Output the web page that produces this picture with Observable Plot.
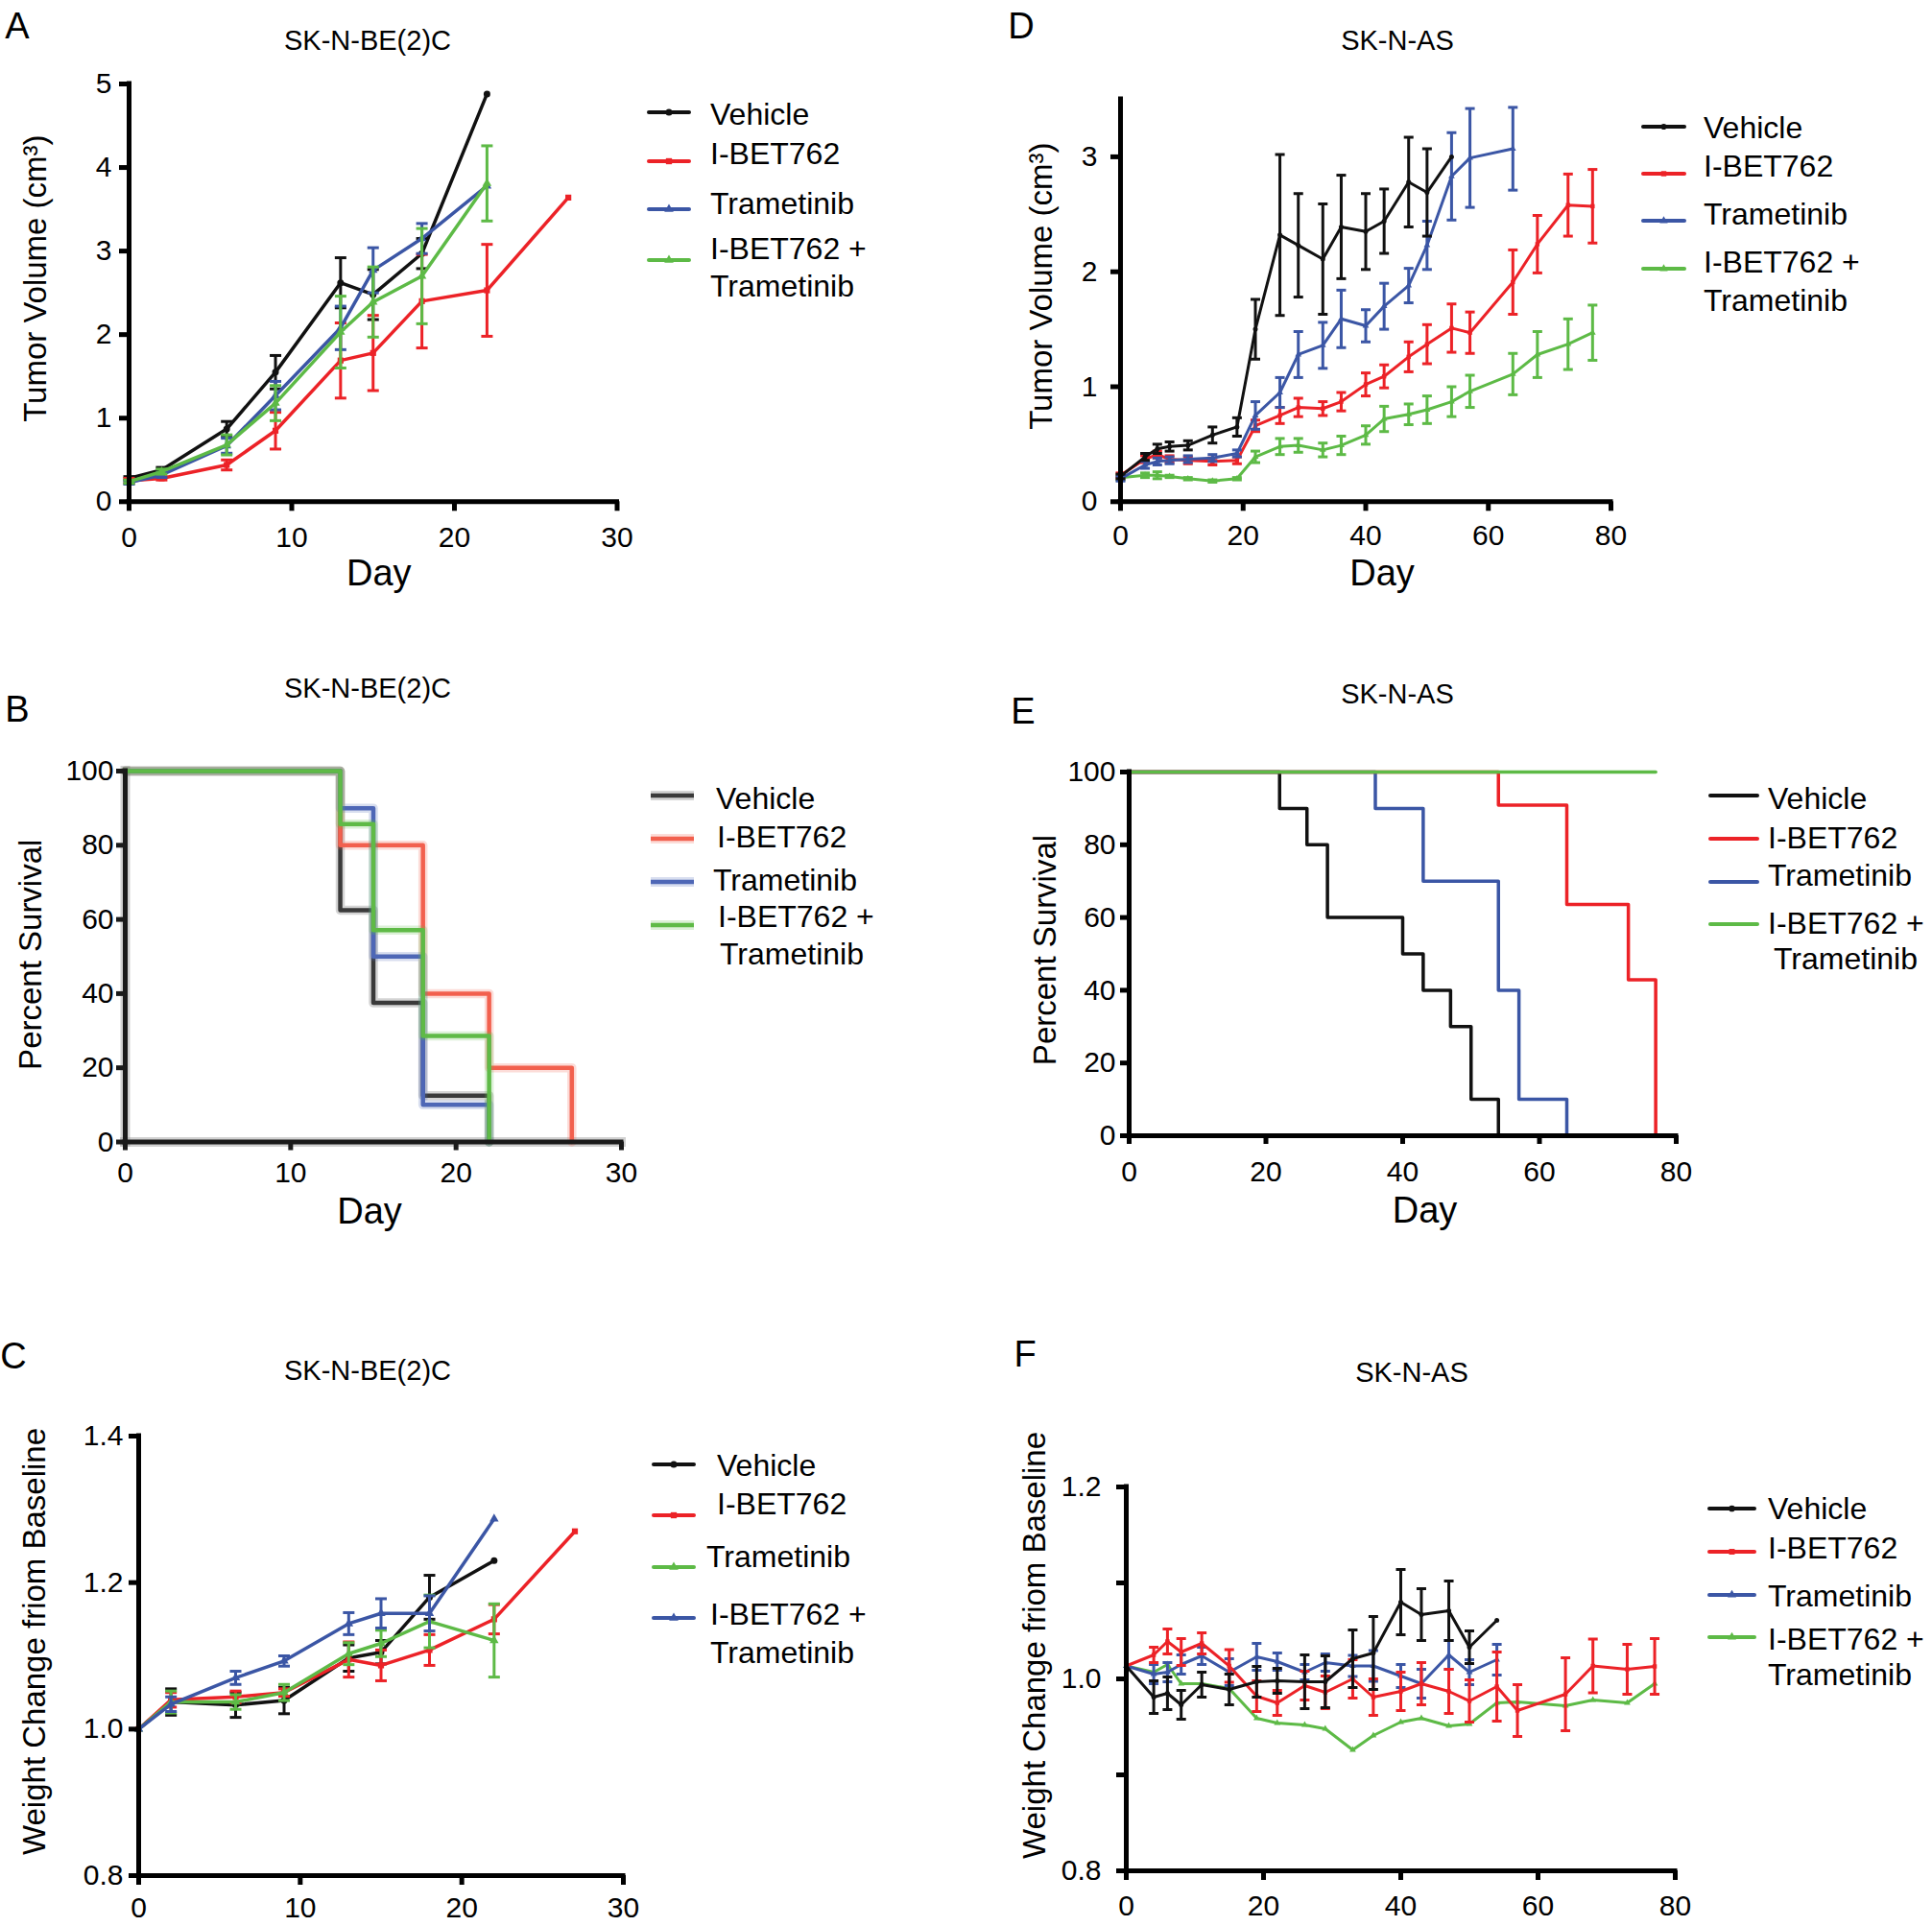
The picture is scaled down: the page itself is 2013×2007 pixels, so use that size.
<!DOCTYPE html>
<html><head><meta charset="utf-8">
<script src="https://cdn.jsdelivr.net/npm/d3@7"></script>
<script src="https://cdn.jsdelivr.net/npm/@observablehq/plot@0.6"></script>
<style>
html,body{margin:0;padding:0;background:#fff;}
#root{position:relative;width:2013px;height:2007px;overflow:hidden;background:#fff;}
</style></head><body><div id="root"></div>
<script>
// ================= DATA =================
const seriesNames = ["Vehicle", "I-BET762", "Trametinib", "I-BET762 + Trametinib"];

// ---- Panel A: SK-N-BE(2)C tumor volume (cm3) ----
const daysA = [0, 2, 6, 9, 13, 15, 18, 22];
const daysA_ibet = [0, 2, 6, 9, 13, 15, 18, 22, 27];
const volA_vehicle = [0.28, 0.38, 0.87, 1.55, 2.62, 2.48, 2.97, 4.88];
const semA_vehicle = [0.02, 0.03, 0.09, 0.20, 0.30, 0.30, 0.18, 0];
const volA_ibet = [0.25, 0.28, 0.44, 0.85, 1.69, 1.78, 2.40, 2.53, 3.64];
const semA_ibet = [0.03, 0.02, 0.06, 0.22, 0.45, 0.45, 0.56, 0.55, 0];
const volA_tram = [0.23, 0.32, 0.67, 1.27, 2.08, 2.77, 3.15, 3.78];
const semA_tram = [0.02, 0.03, 0.09, 0.17, 0.26, 0.27, 0.18, 0];
const volA_combo = [0.24, 0.36, 0.68, 1.18, 2.03, 2.39, 2.70, 3.81];
const semA_combo = [0.02, 0.03, 0.12, 0.21, 0.43, 0.42, 0.57, 0.45];

// ---- Panel D: SK-N-AS tumor volume (cm3) ----
const daysAS = [0, 4, 6, 8, 11, 15, 19, 22, 26, 29, 33, 36, 40, 43, 47, 50, 54, 57, 64, 68, 73, 77];
const volD_vehicle = [0.22, 0.39, 0.46, 0.48, 0.49, 0.58, 0.65, 1.50, 2.32, 2.23, 2.11, 2.39, 2.35, 2.44, 2.78, 2.69, 3.00];
const semD_vehicle = [0.02, 0.03, 0.04, 0.04, 0.04, 0.07, 0.08, 0.26, 0.70, 0.45, 0.48, 0.45, 0.33, 0.28, 0.39, 0.38, 0];
const volD_ibet = [0.23, 0.37, 0.41, 0.37, 0.36, 0.35, 0.36, 0.66, 0.75, 0.82, 0.81, 0.87, 1.02, 1.09, 1.26, 1.37, 1.51, 1.47, 1.91, 2.24, 2.58, 2.57];
const semD_ibet = [0.02, 0.03, 0.03, 0.03, 0.03, 0.03, 0.03, 0.05, 0.07, 0.08, 0.06, 0.08, 0.10, 0.10, 0.13, 0.17, 0.21, 0.18, 0.28, 0.25, 0.27, 0.32];
const volD_tram = [0.20, 0.32, 0.35, 0.36, 0.37, 0.38, 0.42, 0.75, 0.95, 1.28, 1.36, 1.59, 1.53, 1.70, 1.88, 2.23, 2.83, 2.99, 3.07];
const semD_tram = [0.02, 0.03, 0.03, 0.03, 0.03, 0.03, 0.03, 0.12, 0.13, 0.20, 0.20, 0.25, 0.14, 0.20, 0.15, 0.21, 0.38, 0.43, 0.36];
const volD_combo = [0.21, 0.23, 0.23, 0.22, 0.20, 0.18, 0.20, 0.39, 0.48, 0.49, 0.45, 0.49, 0.58, 0.72, 0.76, 0.80, 0.87, 0.96, 1.11, 1.28, 1.37, 1.47];
const semD_combo = [0.02, 0.02, 0.03, 0.01, 0.01, 0.01, 0.01, 0.05, 0.07, 0.06, 0.06, 0.08, 0.08, 0.11, 0.09, 0.12, 0.13, 0.14, 0.18, 0.20, 0.22, 0.24];

// ---- Panel B: SK-N-BE(2)C survival (%), step points [day, percent] ----
const survB_vehicle = [[0, 100], [13, 62.5], [15, 37.5], [18, 12.5], [22, 0]];
const survB_ibet = [[0, 100], [13, 80], [18, 40], [22, 20], [27, 0]];
const survB_tram = [[0, 100], [13, 90], [15, 50], [18, 10], [22, 0]];
const survB_combo = [[0, 100], [13, 85.7], [15, 57.1], [18, 28.6], [22, 0]];

// ---- Panel E: SK-N-AS survival (%) ----
const survE_vehicle = [[0, 100], [22, 90], [26, 80], [29, 60], [40, 50], [43, 40], [47, 30], [50, 10], [54, 0]];
const survE_ibet = [[0, 100], [54, 90.9], [64, 63.6], [73, 42.9], [77, 0]];
const survE_tram = [[0, 100], [36, 90], [43, 70], [54, 40], [57, 10], [64, 0]];
const survE_combo = [[0, 100], [77, 100]];

// ---- Panel C: SK-N-BE(2)C weight change from baseline ----
const daysC = [0, 2, 6, 9, 13, 15, 18, 22];
const daysC_ibet = [0, 2, 6, 9, 13, 15, 18, 22, 27];
const wC_vehicle = [1.0, 1.037, 1.033, 1.039, 1.097, 1.105, 1.18, 1.23];
const semC_vehicle = [0, 0.018, 0.017, 0.018, 0.018, 0.016, 0.03, 0];
const wC_ibet = [1.0, 1.04, 1.044, 1.05, 1.095, 1.087, 1.108, 1.15, 1.27];
const semC_ibet = [0, 0.01, 0.008, 0.005, 0.024, 0.021, 0.021, 0.02, 0];
const wC_tramGreen = [1.0, 1.037, 1.037, 1.05, 1.103, 1.117, 1.147, 1.121];
const semC_tramGreen = [0, 0.015, 0.01, 0.011, 0.015, 0.018, 0.036, 0.05];
const wC_comboBlue = [1.0, 1.034, 1.07, 1.093, 1.144, 1.158, 1.158, 1.287];
const semC_comboBlue = [0, 0.01, 0.009, 0.007, 0.015, 0.02, 0.024, 0];

// ---- Panel F: SK-N-AS weight change from baseline ----
const wF_vehicle = [1.0135, 0.981, 0.985, 0.973, 0.994, 0.989, 0.997, 0.998, 0.997, 0.997, 1.021, 1.027, 1.08, 1.067, 1.071, 1.033, 1.061];
const semF_vehicle = [0, 0.017, 0.017, 0.015, 0.013, 0.016, 0.016, 0.013, 0.028, 0.027, 0.03, 0.038, 0.034, 0.027, 0.031, 0.017, 0];
const wF_ibet = [1.0135, 1.025, 1.039, 1.028, 1.037, 1.0135, 0.982, 0.975, 0.993, 0.986, 1.0, 0.981, 0.987, 0.995, 0.987, 0.977, 0.992, 0.967, 0.984, 1.0135, 1.01, 1.013];
const semF_ibet = [0, 0.008, 0.013, 0.014, 0.011, 0.017, 0.016, 0.013, 0.015, 0.017, 0.02, 0.019, 0.02, 0.022, 0.023, 0.022, 0.036, 0.027, 0.038, 0.028, 0.026, 0.029];
const wF_tram = [1.0135, 1.005, 1.007, 1.015, 1.024, 1.007, 1.023, 1.018, 1.007, 1.017, 1.0135, 1.0135, 1.003, 0.995, 1.025, 1.007, 1.02];
const semF_tram = [0, 0.01, 0.01, 0.01, 0.009, 0.014, 0.014, 0.009, 0.008, 0.009, 0.011, 0.016, 0.012, 0.015, 0.015, 0.013, 0.016];
const wF_combo = [1.0135, 1.007, 1.015, 0.995, 0.995, 0.99, 0.959, 0.954, 0.952, 0.948, 0.926, 0.941, 0.955, 0.959, 0.951, 0.953, 0.975, 0.976, 0.972, 0.978, 0.975, 0.995];

// ---- tick values ----
const ticksA_x = [0, 10, 20, 30], ticksA_y = [0, 1, 2, 3, 4, 5];
const ticksD_x = [0, 20, 40, 60, 80], ticksD_y = [0, 1, 2, 3];
const ticksB_x = [0, 10, 20, 30], ticksB_y = [0, 20, 40, 60, 80, 100];
const ticksE_x = [0, 20, 40, 60, 80], ticksE_y = [0, 20, 40, 60, 80, 100];
const ticksC_x = [0, 10, 20, 30], ticksC_y = [0.8, 1.0, 1.2, 1.4];
const ticksF_x = [0, 20, 40, 60, 80], ticksF_y = [0.8, 0.9, 1.0, 1.1, 1.2];
const labelsF_y = [0.8, 1.0, 1.2];

// ================= STYLE / LAYOUT =================
const FONT = '"Liberation Sans", Arial, Helvetica, sans-serif';
const BLACK = "#111111", RED = "#ec2227", BLUE = "#3b56a5", GREEN = "#5dba46";
const B_BLACK = "#3a3a3a", B_RED = "#f2604e", B_BLUE = "#4e67b6", B_GREEN = "#5fba47";
const root = document.getElementById("root");

const capSymbol = {draw(ctx, size) { const w = Math.sqrt(size / Math.PI); ctx.moveTo(-w, 0); ctx.lineTo(w, 0); }};

function rows(days, vals, sems) { return vals.map((v, i) => ({day: days[i], v, e: sems ? sems[i] : 0})); }
function steps(pairs) { return pairs.map(([day, pct]) => ({day, pct})); }

function seriesMarks(series, o) {
  const out = [];
  for (const s of series) {
    const bars = s.data.filter(d => d.e > 0);
    const caps = bars.flatMap(d => [{day: d.day, y: d.v + d.e}, {day: d.day, y: d.v - d.e}]);
    out.push(Plot.ruleX(bars, {x: "day", y1: d => d.v - d.e, y2: d => d.v + d.e, stroke: s.color, strokeWidth: o.ew}));
    out.push(Plot.dot(caps, {x: "day", y: "y", symbol: capSymbol, r: o.capR, stroke: s.color, strokeWidth: o.ew, fill: "none"}));
    out.push(Plot.line(s.data, {x: "day", y: "v", stroke: s.color, strokeWidth: o.lw}));
    out.push(Plot.dot(s.data, {x: "day", y: "v", symbol: s.symbol, r: o.mr, fill: s.color, stroke: "none"}));
  }
  return out;
}

function survMarks(series, o) {
  const out = [];
  for (const s of series) {
    if (o.halo) out.push(Plot.line(s.data, {x: "day", y: "pct", curve: "step-after", stroke: s.color, strokeWidth: o.lw + 5, strokeOpacity: 0.22}));
    out.push(Plot.line(s.data, {x: "day", y: "pct", curve: "step-after", stroke: s.color, strokeWidth: o.lw}));
  }
  return out;
}

function panel(cfg) {
  const [fx0, fy0, fx1, fy1] = cfg.frame;
  const ml = 180, mr = 40, mt = 30, mb = 120;
  const axisColor = cfg.axisColor || "#000";
  const axisW = cfg.axisW || 5;
  const marks = [];
  if (cfg.axisHalo) {
    marks.push(Plot.ruleX([cfg.x[0]], {stroke: "#999", strokeOpacity: 0.45, strokeWidth: axisW + 5, strokeLinecap: "square"}));
    marks.push(Plot.ruleY([cfg.y[0]], {stroke: "#999", strokeOpacity: 0.45, strokeWidth: axisW + 5, strokeLinecap: "square"}));
  }
  marks.push(...cfg.marks);
  marks.push(
    Plot.axisY({ticks: cfg.yTicks, tickSize: cfg.tickSize || 10, tickPadding: cfg.yPad, strokeWidth: axisW, stroke: axisColor,
      tickFormat: cfg.yFormat || (d => String(d)), label: null}),
    Plot.axisX({ticks: cfg.xTicks, tickSize: cfg.tickSize || 10, tickPadding: cfg.xPad, strokeWidth: axisW, stroke: axisColor,
      tickFormat: d => String(d), label: null}),
    Plot.ruleX([cfg.x[0]], {stroke: axisColor, strokeWidth: axisW, strokeLinecap: "square"}),
    Plot.ruleY([cfg.y[0]], {stroke: axisColor, strokeWidth: axisW, strokeLinecap: "square"}),
    Plot.text([cfg.yLabel], {text: d => d, frameAnchor: "left", textAnchor: "middle", lineAnchor: "middle", rotate: -90,
      dx: cfg.yLabelD[0], dy: cfg.yLabelD[1], fontSize: 33, fill: "#000"})
  );
  if (cfg.xLabel) marks.push(Plot.text([cfg.xLabel], {text: d => d, frameAnchor: "bottom", textAnchor: "middle", lineAnchor: "middle",
    dx: cfg.xLabelD[0], dy: cfg.xLabelD[1], fontSize: 38, fill: "#000"}));
  const svg = Plot.plot({
    width: fx1 - fx0 + ml + mr, height: fy1 - fy0 + mt + mb,
    marginLeft: ml, marginRight: mr, marginTop: mt, marginBottom: mb,
    x: {domain: cfg.x, inset: 0, label: null},
    y: {domain: cfg.y, inset: 0, label: null},
    style: {background: "transparent", overflow: "visible", fontFamily: FONT, fontSize: (cfg.tickFont || 30) + "px", color: "#000"},
    marks
  });
  svg.style.position = "absolute";
  svg.style.left = (fx0 - ml) + "px";
  svg.style.top = (fy0 - mt) + "px";
  svg.style.maxWidth = "none";
  root.appendChild(svg);
}

// ---- Panel A ----
panel({
  frame: [133.5, 87.3, 642, 522.6], x: [0, 30], y: [0, 5],
  xTicks: ticksA_x, yTicks: ticksA_y, xPad: 16, yPad: 8,
  yLabel: "Tumor Volume (cm³)", yLabelD: [-97, -15], xLabel: "Day", xLabelD: [6, 75],
  marks: seriesMarks([
    {color: BLACK, symbol: "circle", data: rows(daysA, volA_vehicle, semA_vehicle)},
    {color: RED, symbol: "square", data: rows(daysA_ibet, volA_ibet, semA_ibet)},
    {color: BLUE, symbol: "triangle", data: rows(daysA, volA_tram, semA_tram)},
    {color: GREEN, symbol: "triangle", data: rows(daysA, volA_combo, semA_combo)}
  ], {lw: 3.5, ew: 3, capR: 6, mr: 3.5})
});

// ---- Panel D ----
panel({
  frame: [1167, 103.3, 1678, 522.6], x: [0, 80], y: [0, 3.5],
  xTicks: ticksD_x, yTicks: ticksD_y, xPad: 14, yPad: 14,
  yLabel: "Tumor Volume (cm³)", yLabelD: [-82, -15], xLabel: "Day", xLabelD: [17, 75],
  marks: seriesMarks([
    {color: GREEN, symbol: "triangle", data: rows(daysAS, volD_combo, semD_combo)},
    {color: RED, symbol: "square", data: rows(daysAS, volD_ibet, semD_ibet)},
    {color: BLUE, symbol: "triangle", data: rows(daysAS, volD_tram, semD_tram)},
    {color: BLACK, symbol: "circle", data: rows(daysAS, volD_vehicle, semD_vehicle)}
  ], {lw: 3, ew: 3, capR: 5, mr: 2.5})
});

// ---- Panel B ----
panel({
  frame: [130, 802.5, 647, 1189], x: [0, 30], y: [0, 100],
  xTicks: ticksB_x, yTicks: ticksB_y, xPad: 12, yPad: 3, tickSize: 9,
  axisColor: "#1a1a1a", axisHalo: true,
  yLabel: "Percent Survival", yLabelD: [-98, -2], xLabel: "Day", xLabelD: [-4, 73],
  marks: survMarks([
    {color: B_BLACK, data: steps(survB_vehicle)},
    {color: B_RED, data: steps(survB_ibet)},
    {color: B_BLUE, data: steps(survB_tram)},
    {color: B_GREEN, data: steps(survB_combo)}
  ], {lw: 4.5, halo: true})
});

// ---- Panel E ----
panel({
  frame: [1176, 804, 1746, 1183], x: [0, 80], y: [0, 100],
  xTicks: ticksE_x, yTicks: ticksE_y, xPad: 17, yPad: 5, tickSize: 9,
  yLabel: "Percent Survival", yLabelD: [-87, -4], xLabel: "Day", xLabelD: [23, 78],
  marks: survMarks([
    {color: BLACK, data: steps(survE_vehicle)},
    {color: BLUE, data: steps(survE_tram)},
    {color: RED, data: steps(survE_ibet)},
    {color: GREEN, data: steps(survE_combo)}
  ], {lw: 3.5, halo: false})
});

// ---- Panel C ----
panel({
  frame: [144, 1496, 649, 1954], x: [0, 30], y: [0.8, 1.4],
  xTicks: ticksC_x, yTicks: ticksC_y, xPad: 12, yPad: 6, yFormat: d => d.toFixed(1),
  yLabel: "Weight Change friom Baseline", yLabelD: [-108, -15],
  marks: seriesMarks([
    {color: BLACK, symbol: "circle", data: rows(daysC, wC_vehicle, semC_vehicle)},
    {color: RED, symbol: "square", data: rows(daysC_ibet, wC_ibet, semC_ibet)},
    {color: GREEN, symbol: "triangle", data: rows(daysC, wC_tramGreen, semC_tramGreen)},
    {color: BLUE, symbol: "triangle", data: rows(daysC, wC_comboBlue, semC_comboBlue)}
  ], {lw: 3.5, ew: 3, capR: 6, mr: 3.5})
});

// ---- Panel F ----
panel({
  frame: [1173, 1549, 1745, 1949], x: [0, 80], y: [0.8, 1.2],
  xTicks: ticksF_x, yTicks: ticksF_y, xPad: 15, yPad: 16,
  yFormat: d => labelsF_y.some(v => Math.abs(v - d) < 1e-9) ? d.toFixed(1) : "",
  yLabel: "Weight Change friom Baseline", yLabelD: [-95, -35],
  marks: seriesMarks([
    {color: GREEN, symbol: "triangle", data: rows(daysAS, wF_combo, null)},
    {color: BLUE, symbol: "triangle", data: rows(daysAS, wF_tram, semF_tram)},
    {color: RED, symbol: "square", data: rows(daysAS, wF_ibet, semF_ibet)},
    {color: BLACK, symbol: "circle", data: rows(daysAS, wF_vehicle, semF_vehicle)}
  ], {lw: 3, ew: 3, capR: 5, mr: 2.5})
});

// ================= OVERLAY: letters, titles, legends =================
const ov = d3.select(root).append("svg")
  .attr("width", 2013).attr("height", 2007)
  .style("position", "absolute").style("left", "0px").style("top", "0px")
  .style("font-family", FONT);

function txt(x, y, s, size, anchor = "start") {
  ov.append("text").attr("x", x).attr("y", y).attr("font-size", size)
    .attr("text-anchor", anchor).attr("dominant-baseline", "central").attr("fill", "#000").text(s);
}

const panelLetters = [["A", 18, 27], ["D", 1064, 27], ["B", 18, 739], ["E", 1066, 741], ["C", 14, 1413], ["F", 1068, 1411]];
panelLetters.forEach(([s, x, y]) => txt(x, y, s, 38, "middle"));

const titles = [["SK-N-BE(2)C", 383, 42], ["SK-N-AS", 1456, 42], ["SK-N-BE(2)C", 383, 717], ["SK-N-AS", 1456, 723], ["SK-N-BE(2)C", 383, 1428], ["SK-N-AS", 1471, 1430]];
titles.forEach(([s, x, y]) => txt(x, y, s, 29, "middle"));

function legend(items, o) {
  items.forEach((it, i) => {
    const ly = o.ly[i];
    if (o.halo) ov.append("line").attr("x1", o.x1).attr("x2", o.x2).attr("y1", ly).attr("y2", ly)
      .attr("stroke", it.color).attr("stroke-width", 10).attr("stroke-opacity", 0.22);
    ov.append("line").attr("x1", o.x1).attr("x2", o.x2).attr("y1", ly).attr("y2", ly)
      .attr("stroke", it.color).attr("stroke-width", o.lw).attr("stroke-linecap", o.halo ? "butt" : "round");
    if (it.symbol) ov.append("path").attr("transform", `translate(${(o.x1 + o.x2) / 2},${ly})`)
      .attr("d", d3.symbol(it.symbol === "square" ? d3.symbolSquare : it.symbol === "triangle" ? d3.symbolTriangle : d3.symbolCircle, o.ms)())
      .attr("fill", it.color);
    const lines = Array.isArray(it.label) ? it.label : [it.label];
    lines.forEach((s, j) => txt(o.tx[i][j] ?? o.tx[i][0], o.ty[i][j], s, 32));
  });
}
const L4 = ["Vehicle", "I-BET762", "Trametinib", ["I-BET762 +", "Trametinib"]];
const mk = (colors, syms) => L4.map((label, i) => ({label, color: colors[i], symbol: syms ? syms[i] : null}));
const SYM = ["circle", "square", "triangle", "triangle"];

legend(mk([BLACK, RED, BLUE, GREEN], SYM), {x1: 676, x2: 718, lw: 4, ms: 40, ly: [117, 168, 218, 271],
  tx: [[740], [740], [740], [740, 740]], ty: [[119], [160], [212], [259, 298]]});
legend(mk([BLACK, RED, BLUE, GREEN], SYM), {x1: 1712, x2: 1755, lw: 4, ms: 30, ly: [132, 181, 230, 280],
  tx: [[1775], [1775], [1775], [1775, 1775]], ty: [[133], [173], [223], [273, 313]]});
legend(mk([B_BLACK, B_RED, B_BLUE, B_GREEN], null), {x1: 678, x2: 723, lw: 4.5, halo: true, ly: [829, 874, 919, 964],
  tx: [[746], [747], [743], [748, 750]], ty: [[832], [872], [917], [955, 994]]});
legend(mk([BLACK, RED, BLUE, GREEN], null), {x1: 1782, x2: 1831, lw: 4, ly: [829, 874, 919, 963],
  tx: [[1842], [1842], [1842], [1842, 1848]], ty: [[832], [873], [912], [962, 999]]});
legend(mk([BLACK, RED, GREEN, BLUE], SYM), {x1: 681, x2: 723, lw: 4, ms: 40, ly: [1526, 1579, 1633, 1686],
  tx: [[747], [747], [736], [740, 740]], ty: [[1527], [1567], [1622], [1682, 1722]]});
legend(mk([BLACK, RED, BLUE, GREEN], SYM), {x1: 1781, x2: 1828, lw: 4, ms: 35, ly: [1572, 1617, 1662, 1706],
  tx: [[1842], [1842], [1842], [1842, 1842]], ty: [[1572], [1613], [1663], [1708, 1745]]});
</script></body></html>
